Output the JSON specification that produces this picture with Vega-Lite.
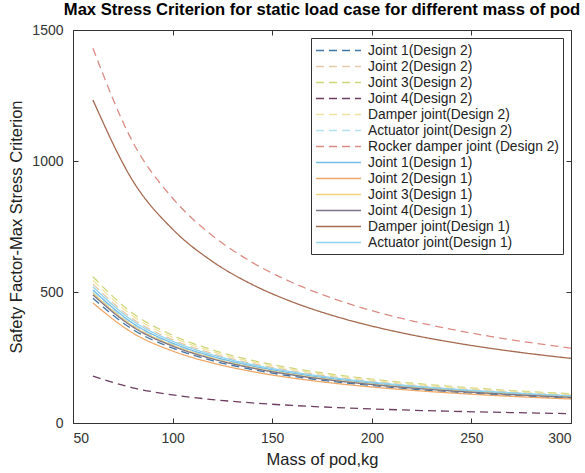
{
  "$schema": "https://vega.github.io/schema/vega-lite/v6.json",
  "width": 498,
  "height": 393,
  "autosize": {"type": "none"},
  "padding": {"left": 73, "top": 30, "right": 14, "bottom": 50},
  "background": "white",
  "title": {"text": "Max Stress Criterion for static load case for different mass of pod", "font": "Liberation Sans", "fontSize": 16.6, "fontWeight": "bold", "color": "#000", "anchor": "middle", "offset": 4},
  "config": {
    "view": {"stroke": "#333", "strokeWidth": 1},
    "axis": {"labelFont": "Liberation Sans", "labelFontSize": 14, "labelColor": "#333", "titleFont": "Liberation Sans", "titleFontSize": 16.5, "titleFontWeight": "normal", "titleColor": "#222", "grid": false, "domainColor": "#333", "tickColor": "#333", "tickSize": -5}
  },
  "data": {"values": [
    {"m":60,"s":"Joint 1(Design 2)","v":476},{"m":80,"s":"Joint 1(Design 2)","v":357},{"m":100,"s":"Joint 1(Design 2)","v":285.6},{"m":120,"s":"Joint 1(Design 2)","v":238},{"m":140,"s":"Joint 1(Design 2)","v":204},{"m":160,"s":"Joint 1(Design 2)","v":178.5},{"m":180,"s":"Joint 1(Design 2)","v":158.7},{"m":200,"s":"Joint 1(Design 2)","v":142.8},{"m":220,"s":"Joint 1(Design 2)","v":129.8},{"m":240,"s":"Joint 1(Design 2)","v":119},{"m":260,"s":"Joint 1(Design 2)","v":109.8},{"m":280,"s":"Joint 1(Design 2)","v":102},{"m":300,"s":"Joint 1(Design 2)","v":95.2},
    {"m":60,"s":"Joint 2(Design 2)","v":530},{"m":80,"s":"Joint 2(Design 2)","v":397.5},{"m":100,"s":"Joint 2(Design 2)","v":318},{"m":120,"s":"Joint 2(Design 2)","v":265},{"m":140,"s":"Joint 2(Design 2)","v":227.1},{"m":160,"s":"Joint 2(Design 2)","v":198.8},{"m":180,"s":"Joint 2(Design 2)","v":176.7},{"m":200,"s":"Joint 2(Design 2)","v":159},{"m":220,"s":"Joint 2(Design 2)","v":144.5},{"m":240,"s":"Joint 2(Design 2)","v":132.5},{"m":260,"s":"Joint 2(Design 2)","v":122.3},{"m":280,"s":"Joint 2(Design 2)","v":113.6},{"m":300,"s":"Joint 2(Design 2)","v":106},
    {"m":60,"s":"Joint 3(Design 2)","v":558},{"m":80,"s":"Joint 3(Design 2)","v":418.5},{"m":100,"s":"Joint 3(Design 2)","v":334.8},{"m":120,"s":"Joint 3(Design 2)","v":279},{"m":140,"s":"Joint 3(Design 2)","v":239.1},{"m":160,"s":"Joint 3(Design 2)","v":209.3},{"m":180,"s":"Joint 3(Design 2)","v":186},{"m":200,"s":"Joint 3(Design 2)","v":167.4},{"m":220,"s":"Joint 3(Design 2)","v":152.2},{"m":240,"s":"Joint 3(Design 2)","v":139.5},{"m":260,"s":"Joint 3(Design 2)","v":128.8},{"m":280,"s":"Joint 3(Design 2)","v":119.6},{"m":300,"s":"Joint 3(Design 2)","v":111.6},
    {"m":60,"s":"Joint 4(Design 2)","v":179},{"m":80,"s":"Joint 4(Design 2)","v":134.3},{"m":100,"s":"Joint 4(Design 2)","v":107.4},{"m":120,"s":"Joint 4(Design 2)","v":89.5},{"m":140,"s":"Joint 4(Design 2)","v":76.7},{"m":160,"s":"Joint 4(Design 2)","v":67.1},{"m":180,"s":"Joint 4(Design 2)","v":59.7},{"m":200,"s":"Joint 4(Design 2)","v":53.7},{"m":220,"s":"Joint 4(Design 2)","v":48.8},{"m":240,"s":"Joint 4(Design 2)","v":44.8},{"m":260,"s":"Joint 4(Design 2)","v":41.3},{"m":280,"s":"Joint 4(Design 2)","v":38.4},{"m":300,"s":"Joint 4(Design 2)","v":35.8},
    {"m":60,"s":"Damper joint(Design 2)","v":545},{"m":80,"s":"Damper joint(Design 2)","v":408.8},{"m":100,"s":"Damper joint(Design 2)","v":327},{"m":120,"s":"Damper joint(Design 2)","v":272.5},{"m":140,"s":"Damper joint(Design 2)","v":233.6},{"m":160,"s":"Damper joint(Design 2)","v":204.4},{"m":180,"s":"Damper joint(Design 2)","v":181.7},{"m":200,"s":"Damper joint(Design 2)","v":163.5},{"m":220,"s":"Damper joint(Design 2)","v":148.6},{"m":240,"s":"Damper joint(Design 2)","v":136.3},{"m":260,"s":"Damper joint(Design 2)","v":125.8},{"m":280,"s":"Damper joint(Design 2)","v":116.8},{"m":300,"s":"Damper joint(Design 2)","v":109},
    {"m":60,"s":"Actuator joint(Design 2)","v":500},{"m":80,"s":"Actuator joint(Design 2)","v":375},{"m":100,"s":"Actuator joint(Design 2)","v":300},{"m":120,"s":"Actuator joint(Design 2)","v":250},{"m":140,"s":"Actuator joint(Design 2)","v":214.3},{"m":160,"s":"Actuator joint(Design 2)","v":187.5},{"m":180,"s":"Actuator joint(Design 2)","v":166.7},{"m":200,"s":"Actuator joint(Design 2)","v":150},{"m":220,"s":"Actuator joint(Design 2)","v":136.4},{"m":240,"s":"Actuator joint(Design 2)","v":125},{"m":260,"s":"Actuator joint(Design 2)","v":115.4},{"m":280,"s":"Actuator joint(Design 2)","v":107.1},{"m":300,"s":"Actuator joint(Design 2)","v":100},
    {"m":60,"s":"Rocker damper joint (Design 2)","v":1430},{"m":80,"s":"Rocker damper joint (Design 2)","v":1072.5},{"m":100,"s":"Rocker damper joint (Design 2)","v":858},{"m":120,"s":"Rocker damper joint (Design 2)","v":715},{"m":140,"s":"Rocker damper joint (Design 2)","v":612.9},{"m":160,"s":"Rocker damper joint (Design 2)","v":536.3},{"m":180,"s":"Rocker damper joint (Design 2)","v":476.7},{"m":200,"s":"Rocker damper joint (Design 2)","v":429},{"m":220,"s":"Rocker damper joint (Design 2)","v":390},{"m":240,"s":"Rocker damper joint (Design 2)","v":357.5},{"m":260,"s":"Rocker damper joint (Design 2)","v":330},{"m":280,"s":"Rocker damper joint (Design 2)","v":306.4},{"m":300,"s":"Rocker damper joint (Design 2)","v":286},
    {"m":60,"s":"Joint 1(Design 1)","v":508},{"m":80,"s":"Joint 1(Design 1)","v":381},{"m":100,"s":"Joint 1(Design 1)","v":304.8},{"m":120,"s":"Joint 1(Design 1)","v":254},{"m":140,"s":"Joint 1(Design 1)","v":217.7},{"m":160,"s":"Joint 1(Design 1)","v":190.5},{"m":180,"s":"Joint 1(Design 1)","v":169.3},{"m":200,"s":"Joint 1(Design 1)","v":152.4},{"m":220,"s":"Joint 1(Design 1)","v":138.5},{"m":240,"s":"Joint 1(Design 1)","v":127},{"m":260,"s":"Joint 1(Design 1)","v":117.2},{"m":280,"s":"Joint 1(Design 1)","v":108.9},{"m":300,"s":"Joint 1(Design 1)","v":101.6},
    {"m":60,"s":"Joint 2(Design 1)","v":458},{"m":80,"s":"Joint 2(Design 1)","v":343.5},{"m":100,"s":"Joint 2(Design 1)","v":274.8},{"m":120,"s":"Joint 2(Design 1)","v":229},{"m":140,"s":"Joint 2(Design 1)","v":196.3},{"m":160,"s":"Joint 2(Design 1)","v":171.8},{"m":180,"s":"Joint 2(Design 1)","v":152.7},{"m":200,"s":"Joint 2(Design 1)","v":137.4},{"m":220,"s":"Joint 2(Design 1)","v":124.9},{"m":240,"s":"Joint 2(Design 1)","v":114.5},{"m":260,"s":"Joint 2(Design 1)","v":105.7},{"m":280,"s":"Joint 2(Design 1)","v":98.1},{"m":300,"s":"Joint 2(Design 1)","v":91.6},
    {"m":60,"s":"Joint 3(Design 1)","v":495},{"m":80,"s":"Joint 3(Design 1)","v":371.3},{"m":100,"s":"Joint 3(Design 1)","v":297},{"m":120,"s":"Joint 3(Design 1)","v":247.5},{"m":140,"s":"Joint 3(Design 1)","v":212.1},{"m":160,"s":"Joint 3(Design 1)","v":185.6},{"m":180,"s":"Joint 3(Design 1)","v":165},{"m":200,"s":"Joint 3(Design 1)","v":148.5},{"m":220,"s":"Joint 3(Design 1)","v":135},{"m":240,"s":"Joint 3(Design 1)","v":123.8},{"m":260,"s":"Joint 3(Design 1)","v":114.2},{"m":280,"s":"Joint 3(Design 1)","v":106.1},{"m":300,"s":"Joint 3(Design 1)","v":99},
    {"m":60,"s":"Joint 4(Design 1)","v":489},{"m":80,"s":"Joint 4(Design 1)","v":366.8},{"m":100,"s":"Joint 4(Design 1)","v":293.4},{"m":120,"s":"Joint 4(Design 1)","v":244.5},{"m":140,"s":"Joint 4(Design 1)","v":209.6},{"m":160,"s":"Joint 4(Design 1)","v":183.4},{"m":180,"s":"Joint 4(Design 1)","v":163},{"m":200,"s":"Joint 4(Design 1)","v":146.7},{"m":220,"s":"Joint 4(Design 1)","v":133.4},{"m":240,"s":"Joint 4(Design 1)","v":122.3},{"m":260,"s":"Joint 4(Design 1)","v":112.8},{"m":280,"s":"Joint 4(Design 1)","v":104.8},{"m":300,"s":"Joint 4(Design 1)","v":97.8},
    {"m":60,"s":"Damper joint(Design 1)","v":1233},{"m":80,"s":"Damper joint(Design 1)","v":924.8},{"m":100,"s":"Damper joint(Design 1)","v":739.8},{"m":120,"s":"Damper joint(Design 1)","v":616.5},{"m":140,"s":"Damper joint(Design 1)","v":528.4},{"m":160,"s":"Damper joint(Design 1)","v":462.4},{"m":180,"s":"Damper joint(Design 1)","v":411},{"m":200,"s":"Damper joint(Design 1)","v":369.9},{"m":220,"s":"Damper joint(Design 1)","v":336.3},{"m":240,"s":"Damper joint(Design 1)","v":308.3},{"m":260,"s":"Damper joint(Design 1)","v":284.5},{"m":280,"s":"Damper joint(Design 1)","v":264.2},{"m":300,"s":"Damper joint(Design 1)","v":246.6},
    {"m":60,"s":"Actuator joint(Design 1)","v":520},{"m":80,"s":"Actuator joint(Design 1)","v":390},{"m":100,"s":"Actuator joint(Design 1)","v":312},{"m":120,"s":"Actuator joint(Design 1)","v":260},{"m":140,"s":"Actuator joint(Design 1)","v":222.9},{"m":160,"s":"Actuator joint(Design 1)","v":195},{"m":180,"s":"Actuator joint(Design 1)","v":173.3},{"m":200,"s":"Actuator joint(Design 1)","v":156},{"m":220,"s":"Actuator joint(Design 1)","v":141.8},{"m":240,"s":"Actuator joint(Design 1)","v":130},{"m":260,"s":"Actuator joint(Design 1)","v":120},{"m":280,"s":"Actuator joint(Design 1)","v":111.4},{"m":300,"s":"Actuator joint(Design 1)","v":104}
  ]},
  "resolve": {"axis": {"x": "independent", "y": "independent"}},
  "layer": [
    {
      "mark": {"type": "line", "interpolate": "monotone", "strokeWidth": 1.3},
      "encoding": {
        "x": {"field": "m", "type": "quantitative", "scale": {"domain": [50, 300], "nice": false, "zero": false}, "axis": {"values": [50, 100, 150, 200, 250, 300], "title": "Mass of pod,kg", "titlePadding": 6, "labelPadding": 13}},
        "y": {"field": "v", "type": "quantitative", "scale": {"domain": [0, 1500], "nice": false}, "axis": {"values": [0, 500, 1000, 1500], "format": "d", "title": "Safety Factor-Max Stress Criterion", "titlePadding": 7, "labelPadding": 15}},
        "color": {
          "field": "s", "type": "nominal",
          "scale": {
            "domain": ["Joint 1(Design 2)", "Joint 2(Design 2)", "Joint 3(Design 2)", "Joint 4(Design 2)", "Damper joint(Design 2)", "Actuator joint(Design 2)", "Rocker damper joint (Design 2)", "Joint 1(Design 1)", "Joint 2(Design 1)", "Joint 3(Design 1)", "Joint 4(Design 1)", "Damper joint(Design 1)", "Actuator joint(Design 1)"],
            "range": ["#3f77a6", "#e6c9a8", "#cfd67a", "#6e3e60", "#efe3a0", "#b5e0ee", "#dc8c84", "#72bde6", "#eda868", "#efd27a", "#7d7488", "#a56a50", "#8fd3ec"]
          },
          "legend": {"title": null, "orient": "top-right", "offset": 8, "padding": 4, "fillColor": "white", "strokeColor": "#333", "labelFont": "Liberation Sans", "labelFontSize": 13.8, "labelColor": "#222", "labelLimit": 300, "symbolType": "M-1,0H5", "symbolSize": 225, "symbolStrokeWidth": 1.3, "rowPadding": -0.35, "labelOffset": 36}
        },
        "strokeDash": {
          "field": "s", "type": "nominal",
          "scale": {
            "domain": ["Joint 1(Design 2)", "Joint 2(Design 2)", "Joint 3(Design 2)", "Joint 4(Design 2)", "Damper joint(Design 2)", "Actuator joint(Design 2)", "Rocker damper joint (Design 2)", "Joint 1(Design 1)", "Joint 2(Design 1)", "Joint 3(Design 1)", "Joint 4(Design 1)", "Damper joint(Design 1)", "Actuator joint(Design 1)"],
            "range": [[8, 5], [8, 5], [8, 5], [8, 5], [8, 5], [8, 5], [8, 5], [1, 0], [1, 0], [1, 0], [1, 0], [1, 0], [1, 0]]
          },
          "legend": {"title": null}
        }
      }
    },
    {
      "mark": {"type": "line", "opacity": 0},
      "encoding": {
        "x": {"field": "m", "type": "quantitative", "axis": {"orient": "top", "values": [50, 100, 150, 200, 250, 300], "labels": false, "title": null, "domain": false}},
        "y": {"field": "v", "type": "quantitative", "axis": {"orient": "right", "values": [0, 500, 1000, 1500], "labels": false, "title": null, "domain": false}},
        "detail": {"field": "s"}
      }
    }
  ]
}
